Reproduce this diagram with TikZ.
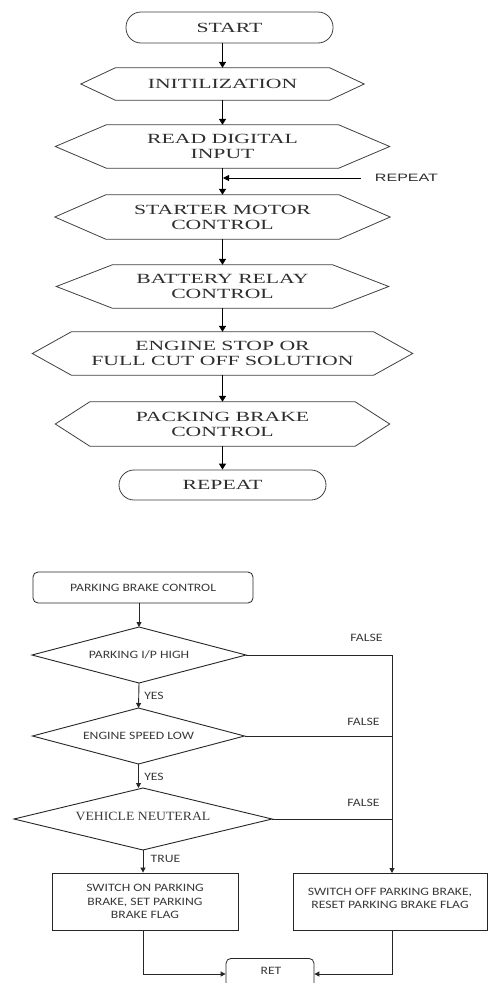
\documentclass[tikz,border=0pt]{standalone}
\usepackage{fontspec}
\newfontfamily\topfont[FakeStretch=1.55]{Liberation Serif}
\newfontfamily\botfont[FakeStretch=1.21]{Carlito}
\newfontfamily\vnfont[FakeStretch=1.09]{Liberation Serif}
\newfontfamily\repfont[FakeStretch=1.5]{Liberation Sans}
\usetikzlibrary{arrows.meta}
\definecolor{txt}{HTML}{2E2E2E}
\definecolor{btxt}{HTML}{3A3A3A}
\definecolor{edge}{HTML}{404040}
\tikzset{
  topnode/.style={inner sep=0pt, align=center, text=txt, font=\fontsize{14}{15}\topfont},
  hexline/.style={draw=edge, line width=0.8pt},
  termnode/.style={topnode, draw=edge, line width=0.8pt, rounded corners=15pt},
  toparr/.style={line width=1.3pt, -{Triangle[width=7pt,length=6pt]}},
  botnode/.style={inner sep=0pt, align=center, text=btxt, font=\fontsize{11.3}{13.5}\botfont},
  botbox/.style={botnode, draw=black!85, line width=0.8pt},
  botline/.style={draw=black!85, line width=0.9pt},
  botarr/.style={botline, -{Triangle[width=5pt,length=5pt]}},
  lbl/.style={inner sep=0pt, text=btxt, font=\fontsize{11.3}{13}\botfont}
}
\newcommand\hexshape[2]{%
  \draw[hexline] (#1.north west) -- (#1.north east) -- ([xshift=#2]#1.east)
    -- (#1.south east) -- (#1.south west) -- ([xshift=-#2]#1.west) -- cycle;}
\newcommand\diamondshape[3]{%
  \draw[botline] ([xshift=-#2]#1.center) -- ([yshift=#3]#1.center) -- ([xshift=#2]#1.center)
    -- ([yshift=-#3]#1.center) -- cycle;}
\begin{document}
\begin{tikzpicture}[x=1pt,y=-1pt]
\useasboundingbox (0,0) rectangle (488,983);
\clip (0,0) rectangle (488,983);
\fill[white] (0,0) rectangle (488,983);

% ---------- top flowchart ----------
\node[termnode, minimum width=207pt, minimum height=31pt] (start) at (229.5,27.5) {START};

\node[topnode, minimum width=214pt, minimum height=32pt] (init) at (222.5,84) {INITILIZATION};
\hexshape{init}{34.5pt}

\node[topnode, minimum width=232pt, minimum height=43pt] (read) at (222.5,146.5) {READ DIGITAL\\INPUT};
\hexshape{read}{51pt}

\node[topnode, minimum width=233pt, minimum height=44pt] (starter) at (222.5,217) {STARTER MOTOR\\CONTROL};
\hexshape{starter}{51pt}

\node[topnode, minimum width=220pt, minimum height=43pt] (battery) at (222.5,286.5) {BATTERY RELAY\\CONTROL};
\hexshape{battery}{56pt}

\node[topnode, minimum width=302pt, minimum height=43pt] (engine) at (222.5,353.5) {ENGINE STOP OR\\FULL CUT OFF SOLUTION};
\hexshape{engine}{39pt}

\node[topnode, minimum width=265pt, minimum height=44pt] (packing) at (222.5,424) {PACKING BRAKE\\CONTROL};
\hexshape{packing}{34.5pt}

\node[termnode, minimum width=207pt, minimum height=30pt] (repeat) at (222.5,485) {REPEAT};

\draw[toparr] (start.south -| init.north) -- (init.north);
\draw[toparr] (init.south) -- (read.north);
\draw[toparr] (read.south) -- (starter.north);
\draw[toparr] (starter.south) -- (battery.north);
\draw[toparr] (battery.south) -- (engine.north);
\draw[toparr] (engine.south) -- (packing.north);
\draw[toparr] (packing.south) -- (repeat.north);

\node[inner sep=0pt, text=txt, font=\fontsize{10.7}{12}\repfont] (replbl) at (406.5,178) {REPEAT};
\coordinate (repstart) at (361,178);
\coordinate (repend) at (223,178);
\draw[line width=0.8pt, -{Triangle[width=6pt,length=6pt]}] (repstart) -- (repend);

% ---------- bottom flowchart ----------
\node[botbox, rounded corners=5pt, minimum width=220pt, minimum height=31pt] (pbc) at (143,587.5) {PARKING BRAKE CONTROL};

\node[botnode] (d1) at (139,655) {PARKING I/P HIGH};
\diamondshape{d1}{107pt}{28pt}
\coordinate (d1n) at (139,627);
\coordinate (d1s) at (139,683);
\coordinate (d1e) at (246,655);

\node[botnode] (d2) at (138.5,736) {ENGINE SPEED LOW};
\diamondshape{d2}{106pt}{28pt}
\coordinate (d2n) at (138.5,708);
\coordinate (d2s) at (138.5,764);
\coordinate (d2e) at (244.5,736);

\node[inner sep=0pt, text=btxt, font=\fontsize{12.6}{14}\vnfont] (d3) at (143,816.5) {VEHICLE NEUTERAL};
\coordinate (d3c) at (143,819);
\draw[botline] (14,819) -- (143,788) -- (272,819) -- (143,850) -- cycle;
\coordinate (d3n) at (143,788);
\coordinate (d3s) at (143,850);
\coordinate (d3e) at (272,819);

\node[botbox, minimum width=186pt, minimum height=57pt] (on) at (145,901.5) {SWITCH ON PARKING\\BRAKE, SET PARKING\\BRAKE FLAG};
\node[botbox, minimum width=194pt, minimum height=57pt, text depth=0pt] (off) at (390,901.5) {\raisebox{7pt}{\shortstack{SWITCH OFF PARKING BRAKE,\\[1.5pt]RESET PARKING BRAKE FLAG}}};

\node[botbox, rounded corners=5pt, minimum width=88pt, minimum height=40pt, anchor=north] (ret) at (270,958) {};
\node[lbl] (rettxt) at (271,971) {RET};

\coordinate (rail) at (392,655);
\coordinate (railb) at (392,873);

\draw[botarr] (pbc.south -| d1n) -- (d1n);
\draw[botarr] (d1s) -- (d2n);
\draw[botarr] (d2s) -- (d2s |- d3n);
\draw[botarr] (d3s) -- (on.north -| d3s);
\draw[botline] (d1e) -- (rail);
\draw[botline] (d2e) -- (d2e -| rail);
\draw[botline] (d3e) -- (d3e -| rail);
\draw[botarr] (rail) -- (railb);
\draw[botarr] (on.south -| d3s) |- (ret.west |- 0,974);
\draw[botarr] (railb |- off.south) |- (ret.east |- 0,974);

\node[lbl] (f1) at (366.5,638) {FALSE};
\node[lbl] (f2) at (363.5,722) {FALSE};
\node[lbl] (f3) at (363.5,803) {FALSE};
\node[lbl] (y1) at (154,696) {YES};
\node[lbl] (y2) at (154,777) {YES};
\node[lbl] (t1) at (165.5,859) {TRUE};
\end{tikzpicture}
\end{document}
